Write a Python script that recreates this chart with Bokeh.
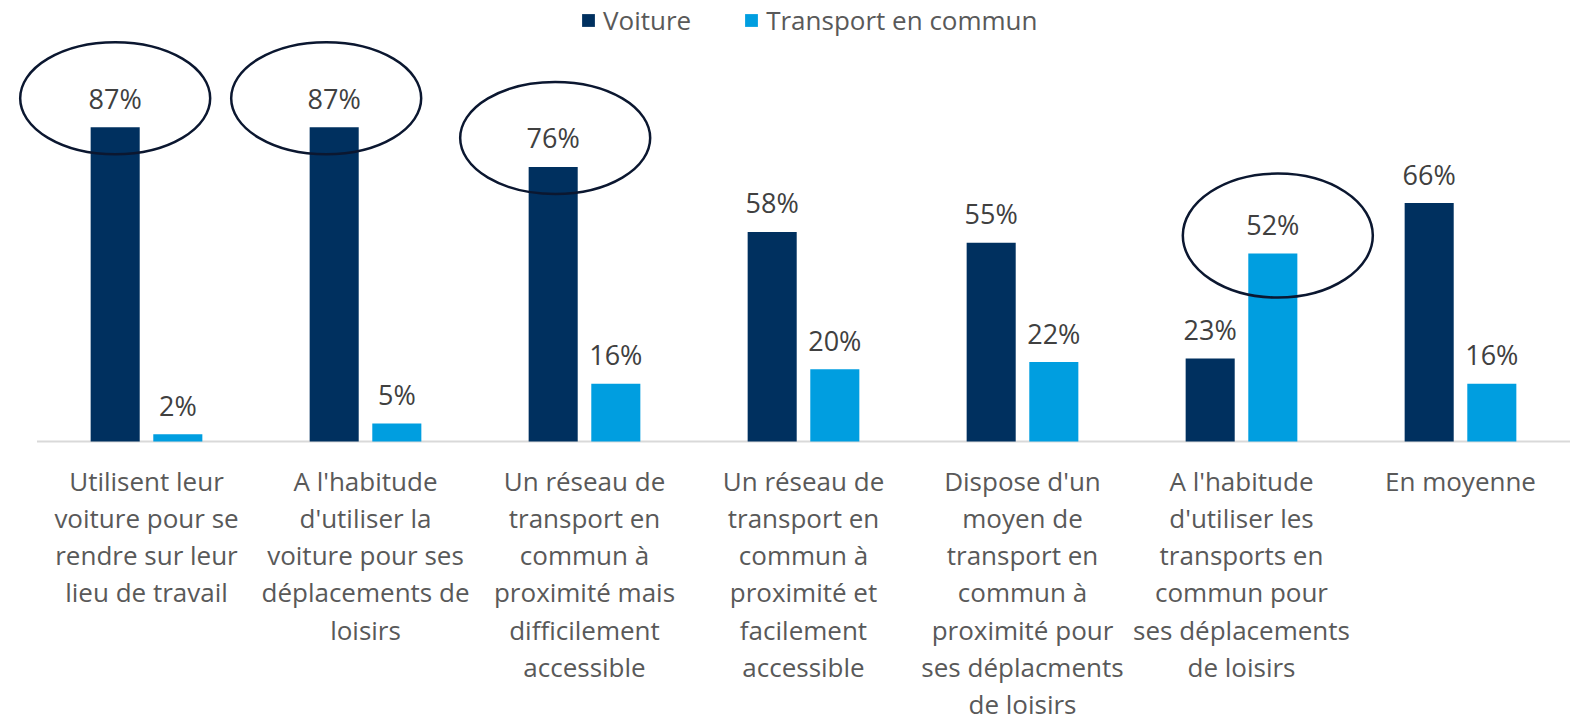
from bokeh.plotting import figure
from bokeh.models import ColumnDataSource, Range1d, LabelSet, Legend, LegendItem
from bokeh.transform import dodge
from bokeh.core.properties import value
from bokeh.embed import file_html
from bokeh.resources import INLINE

categories = [
    "Utilisent leur\nvoiture pour se\nrendre sur leur\nlieu de travail",
    "A l'habitude\nd'utiliser la\nvoiture pour ses\ndéplacements de\nloisirs",
    "Un réseau de\ntransport en\ncommun à\nproximité mais\ndifficilement\naccessible",
    "Un réseau de\ntransport en\ncommun à\nproximité et\nfacilement\naccessible",
    "Dispose d'un\nmoyen de\ntransport en\ncommun à\nproximité pour\nses déplacments\nde loisirs",
    "A l'habitude\nd'utiliser les\ntransports en\ncommun pour\nses déplacements\nde loisirs",
    "En moyenne",
]
voiture = [87, 87, 76, 58, 55, 23, 66]
transport = [2, 5, 16, 20, 22, 52, 16]
series_names = ["Voiture", "Transport en commun"]

# highlighted values: (category index, series index)
highlights = [(0, 0), (1, 0), (2, 0), (5, 1)]
# hand-drawn look of each highlight ellipse: (dx px, dy %, height px)
ellipse_style = [(0, 8, 112), (-8, 8, 112), (2, 8, 112), (5, 5, 124)]

NAVY = "#00305F"
BLUE = "#009EE0"
FONT = "Open Sans"
n = len(categories)
idx = list(range(n))

src = ColumnDataSource(dict(
    x=idx,
    voiture=voiture,
    transport=transport,
    vlab=[f"{v}%" for v in voiture],
    tlab=[f"{v}%" for v in transport],
))

PX = 219.0          # pixels per category
PY = 3.613          # pixels per percent
W, H = 1578, 723
BASE = 441          # canvas y of the baseline
x0 = -0.5 - 36.5 / PX
y0 = -(H - BASE) / PY

p = figure(
    x_range=Range1d(x0, x0 + W / PX),
    y_range=Range1d(y0, y0 + H / PY),
    width=W, height=H,
    x_axis_type=None, y_axis_type=None,
    output_backend="svg", toolbar_location=None,
    min_border=0,
)
p.outline_line_color = None
p.xgrid.grid_line_color = None
p.ygrid.grid_line_color = None

# baseline (category axis line)
p.segment(x0=[-0.5], x1=[n - 0.5], y0=[0], y1=[0], line_color="#D9D9D9", line_width=2)

OFF = 0.143
BW = 0.224
r1 = p.vbar(x=dodge("x", -OFF), top="voiture", width=BW, source=src,
            fill_color=NAVY, line_color=None)
r2 = p.vbar(x=dodge("x", OFF), top="transport", width=BW, source=src,
            fill_color=BLUE, line_color=None)

# highlight ellipses around selected values
ex, ey, eh = [], [], []
for (ci, si), (dx, dy, h) in zip(highlights, ellipse_style):
    vals = voiture if si == 0 else transport
    ex.append(idx[ci] + (OFF if si else -OFF) + dx / PX)
    ey.append(vals[ci] + dy)
    eh.append(h)
esrc = ColumnDataSource(dict(x=ex, y=ey, h=eh))
p.ellipse(x="x", y="y", width=190, height="h",
          width_units="screen", height_units="screen", source=esrc,
          fill_color=None, line_color="#0B1730", line_width=2.5)

for col, lab, sign in (("voiture", "vlab", -OFF), ("transport", "tlab", OFF)):
    p.add_layout(LabelSet(x=dodge("x", sign), y=col, text=lab, source=src,
                          y_offset=29, text_align="center", text_baseline="middle",
                          text_font=value(FONT), text_font_size="27px", text_color="#404040"))

# category labels under the baseline, one centred line at a time
lx, ltxt, loff = [], [], []
for i, c in enumerate(categories):
    for k, line in enumerate(c.split("\n")):
        lx.append(idx[i])
        ltxt.append(line)
        loff.append(-39 - 37.3 * k)
lsrc = ColumnDataSource(dict(x=lx, y=[0] * len(lx), t=ltxt, off=loff))
p.add_layout(LabelSet(x="x", y="y", text="t", source=lsrc,
                      y_offset="off", text_align="center", text_baseline="middle",
                      text_font=value(FONT), text_font_size="26px", text_color="#595959"))

legend = Legend(items=[LegendItem(label=series_names[0], renderers=[r1]),
                       LegendItem(label=series_names[1], renderers=[r2])],
                orientation="horizontal", location=(580, 685),
                glyph_width=16, glyph_height=16, label_standoff=7, spacing=52,
                margin=0, padding=2, border_line_color=None, background_fill_alpha=0,
                label_text_font=FONT, label_text_font_size="26px", label_text_color="#595959")
p.add_layout(legend, "center")

open("out.html", "w").write(file_html(p, INLINE))
